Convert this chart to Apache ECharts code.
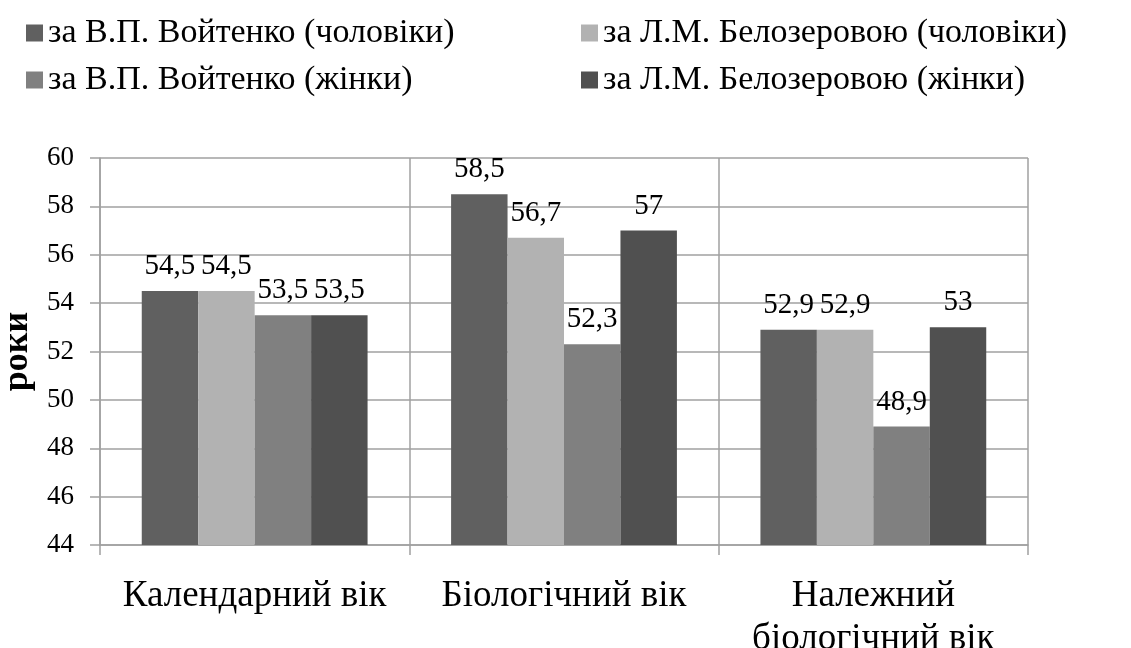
<!DOCTYPE html>
<html><head><meta charset="utf-8">
<script src="https://cdn.jsdelivr.net/npm/echarts@6/dist/echarts.min.js"></script>
<style>html,body{margin:0;padding:0;background:#fff}#c{width:1131px;height:648px}</style>
</head><body><div id="c"></div>
<script>
const categories = ['Календарний вік', 'Біологічний вік', 'Належний\nбіологічний вік'];
const seriesNames = ['за В.П. Войтенко (чоловіки)', 'за Л.М. Белозеровою (чоловіки)', 'за В.П. Войтенко (жінки)', 'за Л.М. Белозеровою (жінки)'];
const voitenkoMen = [54.5, 58.5, 52.9];
const belozerovaMen = [54.5, 56.7, 52.9];
const voitenkoWomen = [53.5, 52.3, 48.9];
const belozerovaWomen = [53.5, 57, 53];
const colors = ['#606060', '#b2b2b2', '#808080', '#505050'];
const allValues = [voitenkoMen, belozerovaMen, voitenkoWomen, belozerovaWomen];

const font = 'Liberation Serif, Times New Roman, serif';
const chart = echarts.init(document.getElementById('c'));
const legendText = { fontSize: 34, color: '#000', fontFamily: font, lineHeight: 36 };
chart.setOption({
  animation: false,
  textStyle: { fontFamily: font },
  legend: [
    { data: [seriesNames[0], seriesNames[2]], orient: 'vertical', left: 26, top: 15, itemWidth: 17, itemHeight: 17, itemGap: 11,
      icon: 'rect', textStyle: legendText, padding: 0 },
    { data: [seriesNames[1], seriesNames[3]], orient: 'vertical', left: 581, top: 15, itemWidth: 17, itemHeight: 17, itemGap: 11,
      icon: 'rect', textStyle: legendText, padding: 0 }
  ],
  grid: { left: 100, right: 103, top: 158, bottom: 103, containLabel: false, outerBoundsMode: 'none' },
  xAxis: {
    type: 'category', data: categories,
    axisLine: { lineStyle: { color: '#a0a0a0', width: 1.5 } },
    axisTick: { show: true, length: 10, lineStyle: { color: '#a0a0a0', width: 1.5 } },
    splitLine: { show: true, lineStyle: { color: '#a0a0a0', width: 1.5 } },
    axisLabel: { interval: 0, fontSize: 37, color: '#000', margin: 30, lineHeight: 43, fontFamily: font }
  },
  yAxis: {
    type: 'value', min: 44, max: 60, interval: 2,
    name: 'роки', nameLocation: 'middle', nameGap: 63,
    nameTextStyle: { fontSize: 36, fontWeight: 'bold', color: '#000', fontFamily: font },
    axisLine: { show: true, lineStyle: { color: '#a0a0a0', width: 1.5 } },
    axisTick: { show: true, length: 10, lineStyle: { color: '#a0a0a0', width: 1.5 } },
    splitLine: { show: true, lineStyle: { color: '#a0a0a0', width: 1.5 } },
    axisLabel: { fontSize: 27, color: '#000', margin: 26, fontFamily: font }
  },
  series: allValues.map((vals, i) => ({
    name: seriesNames[i], type: 'bar', data: vals,
    barGap: '0%', barCategoryGap: '27%',
    itemStyle: { color: colors[i] },
    label: { show: true, position: 'top', distance: 10, fontSize: 29, color: '#000', fontFamily: font,
      formatter: p => String(p.value).replace('.', ',') }
  }))
});
</script></body></html>
